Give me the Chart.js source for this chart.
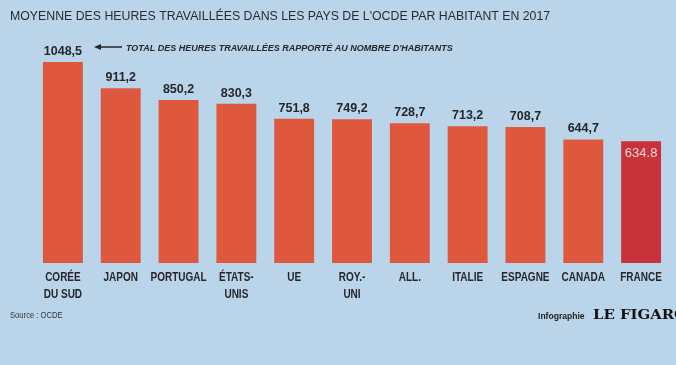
<!DOCTYPE html>
<html><head><meta charset="utf-8">
<script src="https://cdn.jsdelivr.net/npm/chart.js@4"></script>
<style>
html,body{margin:0;padding:0;background:#bad4e9;}
canvas{display:block;}
</style></head>
<body><canvas id="c" width="676" height="365"></canvas>
<script>
const categories = [["CORÉE","DU SUD"],"JAPON","PORTUGAL",["ÉTATS-","UNIS"],"UE",["ROY.-","UNI"],"ALL.","ITALIE","ESPAGNE","CANADA","FRANCE"];
const hours = [1048.5, 911.2, 850.2, 830.3, 751.8, 749.2, 728.7, 713.2, 708.7, 644.7, 634.8];
const valueLabels = ["1048,5","911,2","850,2","830,3","751,8","749,2","728,7","713,2","708,7","644,7","634.8"];
const titleText = "MOYENNE DES HEURES TRAVAILLÉES DANS LES PAYS DE L'OCDE PAR HABITANT EN 2017";
const noteText = "TOTAL DES HEURES TRAVAILLÉES RAPPORTÉ AU NOMBRE D'HABITANTS";
const sourceText = "Source : OCDE";

const SANS = "'Liberation Sans', Arial, sans-serif";
const barColors = hours.map((v,i)=> i===hours.length-1 ? '#c8323a' : '#de583e');

function condText(ctx, text, x, y, sx, align){
  const w = ctx.measureText(text).width * sx;
  let left = x;
  if (align === 'center') left = x - w/2;
  else if (align === 'right') left = x - w;
  ctx.save();
  ctx.translate(left, y);
  ctx.scale(sx, 1);
  ctx.textAlign = 'left';
  ctx.fillText(text, 0, 0);
  ctx.restore();
}

const deco = {
  id:'deco',
  beforeDraw(chart){
    const ctx = chart.ctx;
    ctx.save();
    ctx.fillStyle = '#bad4e9';
    ctx.fillRect(0,0,chart.width,chart.height);
    ctx.restore();
  },
  afterDatasetsDraw(chart){
    const ctx = chart.ctx;
    const meta = chart.getDatasetMeta(0);
    const xs = chart.scales.x;
    ctx.save();
    ctx.textBaseline = 'alphabetic';
    // title
    ctx.fillStyle = '#2a2a30';
    ctx.font = "12.5px " + SANS;
    condText(ctx, titleText, 10, 20, 0.985, 'left');
    // value labels
    meta.data.forEach((bar,i)=>{
      const last = i === meta.data.length-1;
      if (last) {
        ctx.fillStyle = '#f3d6d3';
        ctx.font = "13px " + SANS;
        condText(ctx, valueLabels[i], bar.x, bar.y + 16, 1, 'center');
      } else {
        ctx.fillStyle = '#26262b';
        ctx.font = "bold 12.5px " + SANS;
        condText(ctx, valueLabels[i], bar.x, bar.y - 7, 1, 'center');
      }
    });
    // category labels
    ctx.fillStyle = '#26262b';
    ctx.font = "bold 12.5px " + SANS;
    categories.forEach((lab,i)=>{
      const x = xs.getPixelForValue(i);
      const lines = Array.isArray(lab) ? lab : [lab];
      lines.forEach((t,j)=> condText(ctx, t, x, 281 + j*17, 0.8, 'center'));
    });
    // arrow note
    const y = 47;
    ctx.strokeStyle = '#26262b';
    ctx.fillStyle = '#26262b';
    ctx.lineWidth = 1.5;
    ctx.beginPath(); ctx.moveTo(99,y); ctx.lineTo(122,y); ctx.stroke();
    ctx.beginPath(); ctx.moveTo(94,y); ctx.lineTo(101,y-3); ctx.lineTo(101,y+3); ctx.closePath(); ctx.fill();
    ctx.font = "italic bold 9px " + SANS;
    condText(ctx, noteText, 126, 50.5, 1, 'left');
    // source
    ctx.font = "9px " + SANS;
    ctx.fillStyle = '#333';
    condText(ctx, sourceText, 10, 318, 0.85, 'left');
    // credit
    ctx.font = "bold 9.5px " + SANS;
    ctx.fillStyle = '#222';
    condText(ctx, "Infographie", 538, 319, 0.9, 'left');
    ctx.font = "bold 12px 'DejaVu Serif', serif";
    ctx.fillStyle = '#111';
    const fw = ctx.measureText("LE FIGARO").width;
    condText(ctx, "LE FIGARO", 593, 319, 94 / fw, 'left');
    ctx.restore();
  }
};

new Chart(document.getElementById('c'), {
  type:'bar',
  data:{ labels: categories, datasets:[{ data: hours, backgroundColor: barColors, borderWidth:0, barPercentage:0.69, categoryPercentage:1 }]},
  options:{
    responsive:false, animation:false,
    layout:{ padding:{ top:40, left:34, right:6, bottom:0 } },
    plugins:{ legend:{display:false}, tooltip:{enabled:false}, title:{display:false} },
    scales:{
      y:{ display:false, min:0, max:1163 },
      x:{
        grid:{display:false}, border:{display:false},
        ticks:{ display:false },
        afterFit(scale){ scale.height = 102; }
      }
    }
  },
  plugins:[deco]
});
</script></body></html>
